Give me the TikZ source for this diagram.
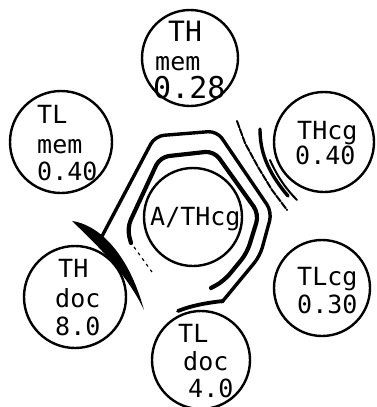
\documentclass[tikz,border=0pt]{standalone}
\usepackage{fontspec}
\newfontfamily\tfont{DejaVu Sans Mono}
\begin{document}
\begin{tikzpicture}[x=1pt,y=-1pt,
  ring/.style={circle,draw,line width=2.4pt,inner sep=0pt},
  txt/.style={font=\tfont\fontsize{25}{25}\selectfont,inner sep=0pt,anchor=base west},
  hexline/.style={line width=3.4pt,rounded corners=9pt,line cap=round,line join=round},
  hexinner/.style={line width=4.2pt,rounded corners=9pt,line cap=round,line join=round},
  hatch/.style={line width=2.6pt,line cap=round,line join=round}]
\useasboundingbox (0,0) rectangle (376,407);
% circles
\node[ring,minimum size=96pt]  (thmem) at (190,58) {};
\node[ring,minimum size=102pt] (tlmem) at (61,142) {};
\node[ring,minimum size=100pt] (thcg)  at (324,142) {};
\node[ring,minimum size=98pt]  (ath)   at (193,217) {};
\node[ring,minimum size=102pt] (thdoc) at (75,297) {};
\node[ring,minimum size=96pt]  (tlcg)  at (322,288) {};
\node[ring,minimum size=98pt]  (tldoc) at (201,360) {};
% texts
\node[txt,font=\tfont\fontsize{28}{28}\selectfont] (t1a) at (168,41) {TH};
\node[txt] (t1b) at (155,70) {mem};
\node[txt,font=\tfont\fontsize{30}{30}\selectfont] (t1c) at (153,98) {0.28};
\node[txt] (t2a) at (37,123) {TL};
\node[txt] (t2b) at (37,153) {mem};
\node[txt] (t2c) at (37,180) {0.40};
\node[txt] (t3a) at (297,139) {THcg};
\node[txt] (t3b) at (295,164) {0.40};
\node[txt] (t4a) at (150,225) {A/THcg};
\node[txt] (t5a) at (58,277) {TH};
\node[txt] (t5b) at (55,307) {doc};
\node[txt] (t5c) at (55,335) {8.0};
\node[txt] (t6a) at (297,285) {TLcg};
\node[txt] (t6b) at (297,313) {0.30};
\node[txt] (t7a) at (178,342) {TL};
\node[txt] (t7b) at (183,370) {doc};
\node[txt] (t7c) at (188,397) {4.0};
% outer hexagon-like line
\draw[hexline] (100,240) -- (155,136) -- (217,131) -- (272,212) -- (260,256) -- (222,302);
% bottom scribble
\draw[line width=3.8pt,line cap=round] (223,301) .. controls (205,303) and (190,306) .. (178,311);
% inner line
\draw[hexinner] (131,243) -- (127,228) -- (160,157) -- (214,151) -- (259,214) -- (247,253) -- (224,281) -- (211,288);
\draw[line width=1.2pt,dash pattern=on 3pt off 4pt] (134,247) -- (152,272);
% crescent
\fill (72,221) .. controls (95,224) and (127,248) .. (144,310)
      .. controls (127,274) and (97,245) .. (72,221) -- cycle;
% hatching near THcg
\draw[hatch,line width=2pt,dash pattern=on 7pt off 1.5pt] (237,121) -- (245,143) -- (258,167) -- (272,190) -- (287,210);
\draw[hatch,line width=3.4pt] (260,129) .. controls (260,150) and (266,170) .. (288,196);
\draw[hatch,line width=2pt] (270,160) .. controls (278,178) and (287,190) .. (297,200);
\end{tikzpicture}
\end{document}
